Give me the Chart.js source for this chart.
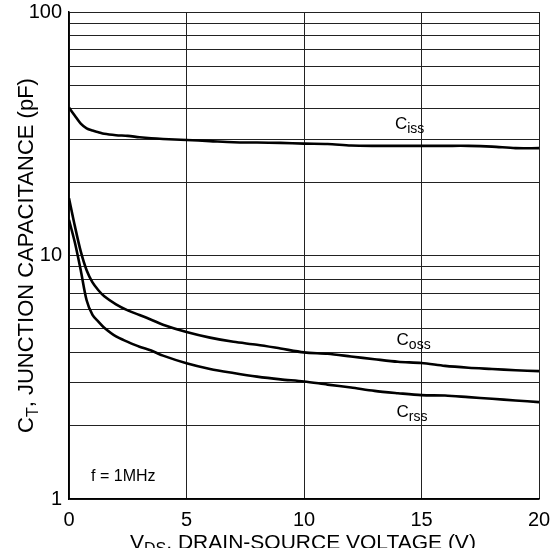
<!DOCTYPE html>
<html>
<head>
<meta charset="utf-8">
<script src="https://cdn.jsdelivr.net/npm/chart.js@4/dist/chart.umd.min.js"></script>
<style>
  html, body { margin: 0; padding: 0; background: #fff; }
  #wrap { width: 560px; height: 548px; }
</style>
</head>
<body>
<div id="wrap"><canvas id="graficoCap" width="560" height="548"></canvas></div>
<script>
// Tensão dreno-fonte (V) e capacitâncias (pF)
const vds  = [0, 0.25, 0.5, 0.75, 1, 1.25, 1.5, 2, 2.5, 3, 3.5, 4, 5, 6, 7, 8, 9, 10, 11, 12, 13, 14, 15, 16, 17, 18, 19, 20];
const ciss = [40.5, 37.5, 34.8, 33.3, 32.6, 32.1, 31.6, 31.2, 31.0, 30.6, 30.3, 30.1, 29.8, 29.5, 29.2, 29.1, 29.0, 28.8, 28.7, 28.3, 28.2, 28.2, 28.2, 28.2, 28.2, 28.0, 27.6, 27.6];
const coss = [17.2, 13.2, 10.4, 8.7, 7.75, 7.2, 6.8, 6.3, 5.95, 5.7, 5.45, 5.2, 4.85, 4.6, 4.42, 4.3, 4.15, 4.0, 3.95, 3.85, 3.75, 3.66, 3.62, 3.52, 3.46, 3.42, 3.38, 3.35];
const crss = [14.0, 11.3, 8.7, 6.55, 5.7, 5.35, 5.05, 4.65, 4.42, 4.22, 4.07, 3.88, 3.61, 3.42, 3.29, 3.18, 3.1, 3.04, 2.95, 2.87, 2.78, 2.72, 2.67, 2.66, 2.62, 2.58, 2.54, 2.5];

const xTicks = [0, 5, 10, 15, 20];
const yLabels = [1, 10, 100];
// linhas de grade em todos os múltiplos inteiros de cada década
const yGrid = [1, 2, 3, 4, 5, 6, 7, 8, 9, 10, 20, 30, 40, 50, 60, 70, 80, 90, 100];

// rótulos das curvas: [texto, subscrito, V, pF]
const rotulos = [
    ['C', 'iss', 13.87, 33.1],
    ['C', 'oss', 13.94, 4.29],
    ['C', 'rss', 13.94, 2.17]
];

const FONTE = '"Liberation Sans", Arial, sans-serif';

function serie(valores) {
    return valores.map((v, i) => ({ x: vds[i], y: v }));
}

// textos com subscrito: títulos dos eixos e nomes das curvas
const textosPlugin = {
    id: 'textos',
    afterDraw(chart) {
        const ctx = chart.ctx;
        const xs = chart.scales.x;
        const ys = chart.scales.y;
        const area = chart.chartArea;
        ctx.save();
        ctx.fillStyle = '#000';
        ctx.textBaseline = 'alphabetic';
        ctx.textAlign = 'left';

        function comSub(base, sub, resto, x, y, fb, fs, desce) {
            ctx.font = fb + 'px ' + FONTE;
            ctx.fillText(base, x, y);
            let px = x + ctx.measureText(base).width;
            ctx.font = fs + 'px ' + FONTE;
            ctx.fillText(sub, px, y + desce);
            px += ctx.measureText(sub).width;
            if (resto) {
                ctx.font = fb + 'px ' + FONTE;
                ctx.fillText(resto, px, y);
            }
        }
        function largura(base, sub, resto, fb, fs) {
            ctx.font = fb + 'px ' + FONTE;
            let w = ctx.measureText(base + resto).width;
            ctx.font = fs + 'px ' + FONTE;
            return w + ctx.measureText(sub).width;
        }

        rotulos.forEach(r => {
            comSub(r[0], r[1], '', xs.getPixelForValue(r[2]), ys.getPixelForValue(r[3]), 17, 14, 4);
        });

        ctx.font = '16px ' + FONTE;
        ctx.fillText('f = 1MHz', xs.getPixelForValue(0.94), ys.getPixelForValue(1.18));

        // título do eixo x
        const tx = ', DRAIN-SOURCE VOLTAGE (V)';
        const wx = largura('V', 'DS', tx, 21, 16);
        comSub('V', 'DS', tx, 302 - wx / 2, 549, 21, 16, 5);

        // título do eixo y (girado)
        const ty = ', JUNCTION CAPACITANCE (pF)';
        const wy = largura('C', 'T', ty, 22, 16);
        ctx.translate(33, (area.top + area.bottom) / 2);
        ctx.rotate(-Math.PI / 2);
        comSub('C', 'T', ty, -wy / 2, 0, 22, 16, 5);
        ctx.restore();
    }
};

const ctx = document.getElementById('graficoCap').getContext('2d');
const linha = { borderColor: '#000', borderWidth: 2.6, pointRadius: 0, fill: false, tension: 0.3 };

new Chart(ctx, {
    type: 'line',
    data: {
        datasets: [
            Object.assign({ label: 'Ciss', data: serie(ciss) }, linha),
            Object.assign({ label: 'Coss', data: serie(coss) }, linha),
            Object.assign({ label: 'Crss', data: serie(crss) }, linha)
        ]
    },
    options: {
        responsive: false,
        animation: false,
        devicePixelRatio: 1,
        layout: { padding: { top: 12, right: 21, left: 0, bottom: 0 } },
        plugins: {
            legend: { display: false },
            tooltip: { enabled: false },
            title: { display: false }
        },
        scales: {
            x: {
                type: 'linear',
                min: 0,
                max: 20,
                afterFit(scale) {
                    scale.height = 49;
                    scale.paddingLeft = 0;
                    scale.paddingRight = 0;
                },
                afterBuildTicks(scale) { scale.ticks = xTicks.map(v => ({ value: v })); },
                grid: { color: '#222', lineWidth: 1, drawTicks: false },
                border: { color: '#000', width: 1.5 },
                ticks: {
                    padding: 9,
                    color: '#000',
                    font: { family: FONTE, size: 20 },
                    maxRotation: 0
                }
            },
            y: {
                type: 'logarithmic',
                min: 1,
                max: 100,
                afterFit(scale) {
                    scale.width = 69;
                    scale.paddingTop = 0;
                    scale.paddingBottom = 0;
                },
                afterBuildTicks(scale) { scale.ticks = yGrid.map(v => ({ value: v })); },
                grid: { color: '#222', lineWidth: 1, drawTicks: false },
                border: { color: '#000', width: 1.5 },
                ticks: {
                    padding: 7,
                    color: '#000',
                    autoSkip: false,
                    font: { family: FONTE, size: 20 },
                    callback: v => yLabels.includes(v) ? String(v) : ''
                }
            }
        }
    },
    plugins: [textosPlugin]
});
</script>
</body>
</html>
